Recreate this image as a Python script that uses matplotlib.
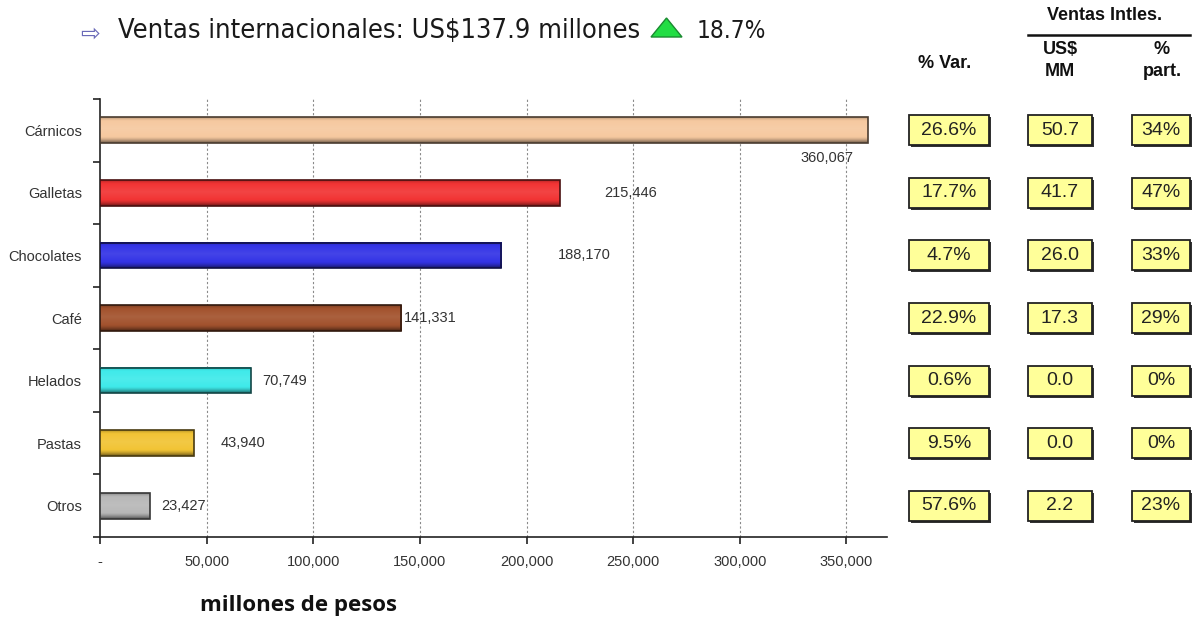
import numpy as np
import matplotlib
matplotlib.use("Agg")
import matplotlib.pyplot as plt
from matplotlib.patches import Rectangle, Polygon

# ---------------- data ----------------
categories = ["Cárnicos", "Galletas", "Chocolates", "Café", "Helados", "Pastas", "Otros"]
ventas = [360067, 215446, 188170, 141331, 70749, 43940, 23427]
bar_colors = ["#F6C9A0", "#F23434", "#3434E6", "#A3532E", "#3FEAEA", "#F2C435", "#B8B8B8"]
var_pct = [26.6, 17.7, 4.7, 22.9, 0.6, 9.5, 57.6]
usd_mm = [50.7, 41.7, 26.0, 17.3, 0.0, 0.0, 2.2]
part_pct = [34, 47, 33, 29, 0, 0, 23]
x_ticks = [0, 50000, 100000, 150000, 200000, 250000, 300000, 350000]
x_max = 369000
headline = "Ventas internacionales: US$137.9 millones"
headline_growth = "18.7%"
x_label = "millones de pesos"

# label offsets in pixels (dx, dy) relative to bar end
label_offsets = [(-67, 28), (45, 0), (57, 0), (2, 0), (11, 0), (27, 0), (11, 0)]

W, H = 1202, 620
fig = plt.figure(figsize=(W / 100, H / 100), dpi=100)
fig.patch.set_facecolor("white")

def fx(px):
    return px / W

def fy(py):
    return 1 - py / H

ax_left, ax_right, ax_top, ax_bot = 100, 887, 99, 537
ax = fig.add_axes([fx(ax_left), fy(ax_bot), fx(ax_right - ax_left), (ax_bot - ax_top) / H])

n = len(categories)
ypos = np.arange(n)
bar_h = 0.41

def lighten(c, f):
    c = np.array(matplotlib.colors.to_rgb(c))
    return c + (1 - c) * f

def darken(c, f):
    c = np.array(matplotlib.colors.to_rgb(c))
    return c * (1 - f)

prof_t = np.linspace(0, 1, 60)
for i, (v, col) in enumerate(zip(ventas, bar_colors)):
    rows = []
    for t in prof_t:
        d = abs(t - 0.45) / 0.55
        if d < 0.55:
            rows.append(lighten(col, 0.08 * (1 - d / 0.55)))
        else:
            rows.append(darken(col, 0.55 * ((d - 0.55) / 0.45) ** 1.5))
    grad = np.array(rows).reshape(-1, 1, 3)
    ax.imshow(grad, extent=[0, v, i + bar_h / 2, i - bar_h / 2], aspect="auto",
              interpolation="bilinear", zorder=3)
    ax.barh(i, v, height=bar_h, left=0, facecolor="none",
            edgecolor=darken(col, 0.7), linewidth=1.2, zorder=4)

ax.set_xlim(0, x_max)
ax.set_ylim(n - 0.5, -0.5)

for xt in x_ticks[1:]:
    ax.axvline(xt, color="#8a8a8a", linewidth=0.8, linestyle=(0, (2, 2)), zorder=1)

for s in ["top", "right"]:
    ax.spines[s].set_visible(False)
for s in ["left", "bottom"]:
    ax.spines[s].set_linewidth(1.2)
    ax.spines[s].set_color("#222222")

ax.set_xticks(x_ticks)
ax.set_xticklabels(["-" if t == 0 else f"{t:,.0f}" for t in x_ticks])
ax.tick_params(axis="x", direction="out", length=5, width=1.2, pad=8,
               labelsize=10.5, labelcolor="#333333", color="#222222")
ax.set_yticks(ypos)
ax.set_yticklabels(categories)
ax.tick_params(axis="y", which="major", length=0, pad=13, labelsize=10.5, labelcolor="#333333")
ax.set_yticks(np.arange(n + 1) - 0.5, minor=True)
ax.tick_params(axis="y", which="minor", direction="out", length=5, width=1.2, color="#222222")
for lbl in ax.get_xticklabels() + ax.get_yticklabels():
    lbl.set_family("Liberation Sans")

for i, v in enumerate(ventas):
    dx, dy = label_offsets[i]
    ax.annotate(f"{v:,.0f}", xy=(v, i), xytext=(dx, -dy), textcoords="offset pixels",
                ha="left", va="center", fontsize=10.5, color="#333333",
                family="Liberation Sans", zorder=5)

# ---------------- right table ----------------
tab = fig.add_axes([fx(880), fy(ax_bot), fx(W - 880), (ax_bot - ax_top) / H], sharey=ax)
tab.set_xlim(0, W - 880)
tab.set_ylim(n - 0.5, -0.5)
tab.axis("off")
px_per_unit = (ax_bot - ax_top) / n
box_h = 30 / px_per_unit
cols = [(29, 80, var_pct, "{:.1f}%"), (148, 64, usd_mm, "{:.1f}"), (252, 58, part_pct, "{:.0f}%")]
for x0, w, vals, fmt in cols:
    for i, v in enumerate(vals):
        sh = Rectangle((x0 + 2, i - box_h / 2 + 2 / px_per_unit), w, box_h,
                       facecolor="#333333", edgecolor="none", zorder=1)
        tab.add_patch(sh)
        r = Rectangle((x0, i - box_h / 2), w, box_h, facecolor="#FFFF99",
                      edgecolor="#222222", linewidth=1.3, zorder=2)
        tab.add_patch(r)
        tab.text(x0 + w / 2, i, fmt.format(v), ha="center", va="center",
                 fontsize=14, color="#222222", family="Liberation Sans", zorder=3)

hdr = dict(fontsize=13, fontweight="bold", color="#111111", family="Liberation Sans")
fig.text(fx(945), fy(63), "% Var.", ha="center", va="center", **hdr)
fig.text(fx(1105), fy(15), "Ventas Intles.", ha="center", va="center", **hdr)
fig.add_artist(plt.Line2D([fx(1028), fx(1190)], [fy(35), fy(35)], color="#111111", linewidth=1.8))
fig.text(fx(1060), fy(50), "US$", ha="center", va="center", **hdr)
fig.text(fx(1060), fy(72), "MM", ha="center", va="center", **hdr)
fig.text(fx(1162), fy(50), "%", ha="center", va="center", **hdr)
fig.text(fx(1162), fy(72), "part.", ha="center", va="center", **hdr)

# ---------------- headline ----------------
fig.text(fx(80), fy(34), "⇨", ha="left", va="center", fontsize=17, color="#6a6ab8",
         family="DejaVu Sans")
fig.text(fx(118), fy(31), headline, ha="left", va="center", fontsize=19.5,
         color="#1a1a1a", family="DejaVu Sans", fontstretch="condensed")
tri = Polygon([(fx(651), fy(37)), (fx(682), fy(37)), (fx(666.5), fy(18))], closed=True,
              transform=fig.transFigure, facecolor="#22dd44", edgecolor="#1a8a30", linewidth=1.0)
fig.add_artist(tri)
fig.text(fx(697), fy(31), headline_growth, ha="left", va="center", fontsize=17.5,
         color="#1a1a1a", family="DejaVu Sans", fontstretch="condensed")

fig.text(fx(200), fy(605), x_label, ha="left", va="center", fontsize=16,
         fontweight="bold", color="#111111", family="Open Sans")

fig.savefig("out.png", dpi=100, facecolor="white")
